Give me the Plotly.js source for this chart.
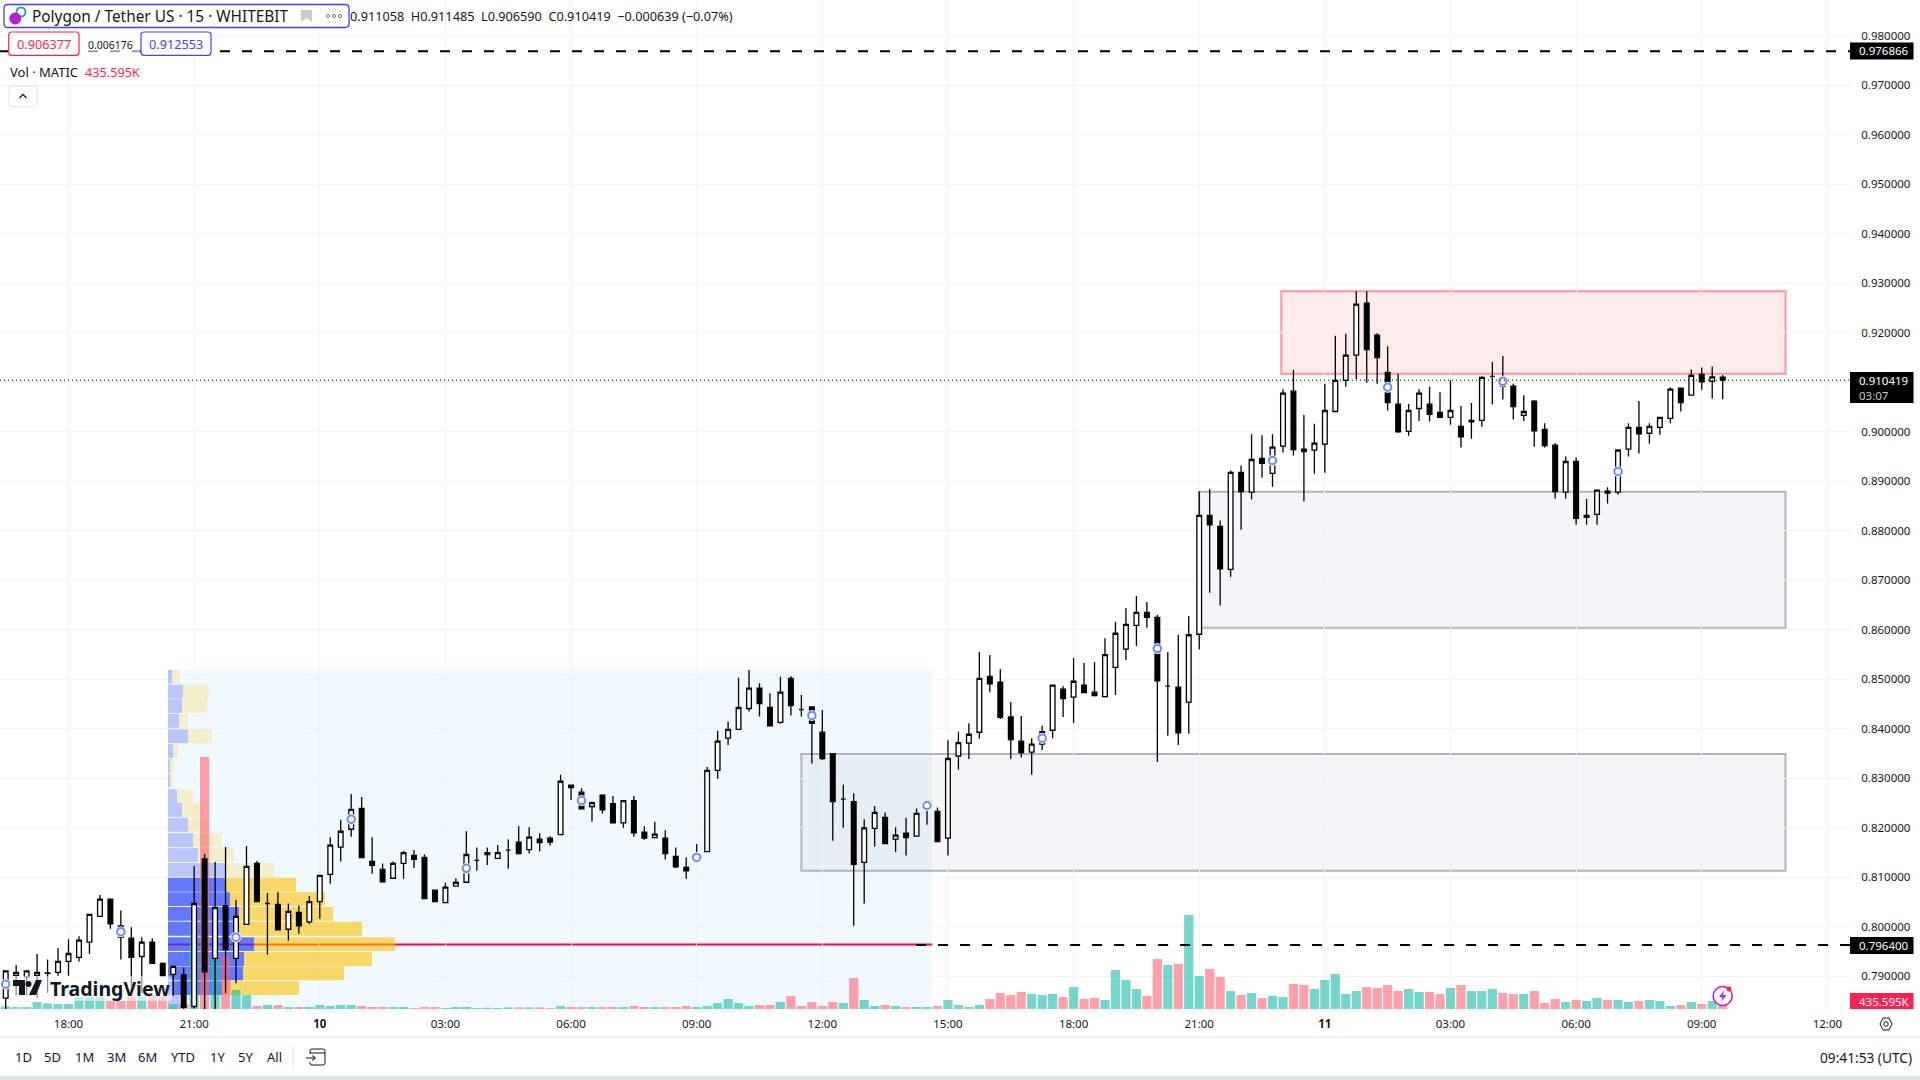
<!DOCTYPE html>
<html><head><meta charset="utf-8">
<script src="https://cdn.plot.ly/plotly-3.0.1.min.js"></script>
<style>html,body{margin:0;padding:0;background:#fff}#c{width:1920px;height:1080px}</style>
</head><body><div id="c"></div>
<script>
// ---------- DATA ----------
const firstBarHour = 16.5;   // hours since 00:00 on the 9th
const barHours = 0.25;
const openP = [
.7856,.7902,.7899,.7902,.7906,.7908,.7930,.7938,.7969,.8021,
.8056,.7979,.7977,.7940,.7969,.7926,.7904,.7903,.7839,.8137,
.7936,.8042,.7936,.8005,.8128,.8047,.8045,.7995,.8029,.8010,
.8051,.8106,.8161,.8197,.8239,.8132,.8116,.8098,.8128,.8144,
.8140,.8074,.8049,.8082,.8090,.8134,.8146,.8138,.8155,.8171,
.8156,.8177,.8179,.8186,.8286,.8272,.8243,.8266,.8249,.8210,
.8255,.8191,.8180,.8179,.8142,.8120,.8137,.8152,.8316,.8381,
.8399,.8441,.8482,.8443,.8413,.8502,.8439,.8444,.8393,.8350,
.8258,.8253,.8130,.8199,.8221,.8177,.8189,.8183,.8242,.8233,
.8179,.8345,.8371,.8393,.8506,.8494,.8424,.8375,.8353,.8369,
.8397,.8480,.8464,.8488,.8474,.8465,.8524,.8561,.8609,.8635,
.8625,.8486,.8484,.8454,.8591,.8831,.8809,.8722,.8918,.8878,
.8946,.8916,.8971,.9082,.8965,.8963,.8975,.9041,.9104,.9155,
.9260,.9195,.9120,.9056,.9001,.9047,.9056,.9039,.9029,.9011,
.9023,.9023,.9112,.9092,.9092,.9033,.9062,.9005,.8973,.8878,
.8940,.8827,.8833,.8880,.8878,.8965,.9009,.8997,.9009,.9027,
.9088,.9074,.9116,.9102,.911058];
const highP = [
.7911,.7923,.7911,.7945,.7934,.7957,.7975,.7981,.8025,.8064,
.8056,.8033,.7999,.7979,.7977,.7928,.7922,.7918,.8123,.8147,
.8131,.8161,.8054,.8163,.8133,.8068,.8070,.8047,.8043,.8062,
.8104,.8181,.8216,.8268,.8262,.8181,.8128,.8132,.8153,.8155,
.8146,.8074,.8089,.8098,.8193,.8160,.8160,.8165,.8177,.8203,
.8201,.8189,.8183,.8307,.8286,.8280,.8253,.8266,.8264,.8255,
.8264,.8203,.8212,.8195,.8160,.8140,.8167,.8323,.8396,.8414,
.8503,.8519,.8492,.8472,.8505,.8506,.8468,.8445,.8438,.8350,
.8287,.8270,.8217,.8244,.8231,.8201,.8220,.8239,.8252,.8241,
.8377,.8394,.8411,.8555,.8549,.8521,.8454,.8426,.8381,.8406,
.8488,.8486,.8543,.8533,.8535,.8583,.8616,.8644,.8668,.8656,
.8630,.8555,.8590,.8628,.8880,.8884,.8821,.8922,.8932,.8995,
.8993,.8995,.9086,.9125,.9034,.9016,.9097,.9194,.9198,.9284,
.9284,.9199,.9173,.9117,.9056,.9086,.9091,.9080,.9104,.9052,
.9058,.9112,.9141,.9153,.9097,.9074,.9064,.9017,.8977,.8950,
.8948,.8864,.8882,.8888,.8965,.9017,.9062,.9017,.9029,.9090,
.9088,.9126,.9130,.9132,.911485];
const lowP = [
.7834,.7861,.7861,.7856,.7866,.7901,.7901,.7930,.7945,.8021,
.7996,.7934,.7879,.7866,.7926,.7899,.7860,.7834,.7835,.7825,
.7825,.7866,.7886,.8005,.8051,.7944,.7994,.7972,.7986,.8006,
.8016,.8087,.8132,.8182,.8140,.8107,.8089,.8098,.8097,.8119,
.8057,.8051,.8049,.8082,.8090,.8113,.8125,.8138,.8117,.8146,
.8148,.8152,.8164,.8186,.8256,.8238,.8212,.8229,.8210,.8200,
.8182,.8176,.8180,.8136,.8119,.8097,.8135,.8152,.8299,.8367,
.8399,.8435,.8425,.8406,.8410,.8427,.8425,.8330,.8337,.8174,
.8200,.8002,.8047,.8162,.8168,.8151,.8144,.8183,.8206,.8172,
.8144,.8317,.8339,.8380,.8474,.8420,.8339,.8342,.8307,.8357,
.8381,.8424,.8412,.8473,.8465,.8463,.8468,.8539,.8567,.8604,
.8333,.8386,.8367,.8390,.8560,.8675,.8649,.8707,.8802,.8863,
.8907,.8889,.8958,.8952,.8859,.8915,.8917,.9041,.9091,.9106,
.9099,.9097,.9043,.8998,.8992,.9022,.9021,.9029,.9014,.8968,
.8986,.9010,.9055,.9065,.9025,.9022,.8970,.8968,.8865,.8865,
.8812,.8812,.8812,.8855,.8873,.8950,.8956,.8976,.8994,.9017,
.9041,.9074,.9085,.9067,.90659];
const closeP = [
.7911,.7908,.7911,.7908,.7907,.7930,.7946,.7973,.8025,.8056,
.8006,.8002,.7938,.7969,.7926,.7901,.7920,.7837,.8047,.7909,
.8039,.7954,.8021,.8122,.8051,.8047,.7994,.8031,.8002,.8051,
.8104,.8165,.8193,.8237,.8140,.8124,.8091,.8128,.8150,.8136,
.8057,.8051,.8080,.8090,.8146,.8134,.8150,.8150,.8155,.8148,
.8181,.8170,.8171,.8294,.8281,.8238,.8251,.8236,.8210,.8255,
.8190,.8179,.8187,.8148,.8121,.8113,.8143,.8316,.8375,.8399,
.8443,.8482,.8451,.8406,.8474,.8447,.8439,.8411,.8340,.8253,
.8258,.8126,.8200,.8231,.8168,.8185,.8180,.8229,.8249,.8172,
.8340,.8372,.8389,.8502,.8491,.8423,.8378,.8352,.8369,.8394,
.8488,.8461,.8496,.8473,.8467,.8550,.8593,.8611,.8635,.8625,
.8497,.8486,.8392,.8590,.8831,.8812,.8723,.8918,.8879,.8944,
.8936,.8969,.9078,.8964,.8960,.8977,.9043,.9104,.9155,.9258,
.9166,.9150,.9059,.9000,.9043,.9078,.9035,.9029,.9043,.8990,
.9020,.9110,.9112,.9109,.9051,.9041,.9002,.8972,.8879,.8940,
.8825,.8831,.8882,.8876,.8963,.9009,.8996,.9011,.9029,.9086,
.9059,.9114,.9101,.9111,.910419];
const volumeK = [
387,290,290,1015,822,725,725,1740,1740,1740,
1160,1160,1740,1740,2030,1740,725,725,10585,36540,
7345,7685,2755,2030,435,580,580,290,290,290,
580,435,580,580,435,290,290,290,290,145,
290,290,145,290,290,145,193,145,242,242,
242,242,145,435,290,290,290,290,290,290,
435,290,290,290,290,435,290,435,870,1450,
870,435,580,580,1015,1885,435,1015,435,1015,
870,4495,1305,435,580,435,290,290,290,435,
1305,580,290,580,1450,2320,2030,2465,2175,2030,
2175,1740,3190,1450,1595,1305,5655,4205,2900,1885,
7250,6380,6525,13630,4785,5800,4640,2610,2030,2320,
1595,1885,1740,3625,3480,2900,4205,5075,2175,2610,
3190,3045,3480,2610,2900,2465,2465,2175,3045,3480,
2610,2610,2900,2320,2175,2175,2610,870,1450,1015,
1305,1160,1595,1305,1305,1015,1160,1305,1160,435,
580,1015,725,1160,435.595];
const volumeSide = ("TTTTTTTTTT"+"PPPTPPTPTP"+"TPTTPTPTPT"+"TTTTPPPTTP"+"PPTTTTTTTP"+
 "TPPTPPTPPT"+"PPTPPPTTTT"+"TTPPTPPPPP"+"TPTTPTPTTP"+"TTTTPPPPTT"+"TPTPPTTTTP"+
 "PTPTTPPTPT"+"PTTPPTTTTT"+"PPPPTTPPTP"+"TTTPPTPPPT"+"PTTPTTPTTT"+"PTPTP").split("");
const markerBars = [0,11,22,33,44,55,66,77,88,99,110,121,132,143,154];
const markerPrices = [.7884,.7990,.7979,.8217,.8118,.8255,.8140,.8427,.8245,.8381,.8562,.8942,.9090,.9102,.8920];
const profilePrices = [.8505,.8475,.8446,.8416,.8385,.8355,.8325,.8295,.8264,.8236,.8206,.8175,.8145,.8115,.8085,.8056,.8026,.7996,.7965,.7935,.7906,.7876,.7847];
const profileUp = [600,2250,2100,1650,3000,750,300,300,1350,2100,3000,3750,4500,8550,8650,9300,10650,10200,12900,11400,11250,8100,1800];
const profileDown = [1200,3900,3750,1350,3600,750,600,300,2400,3300,3150,4350,5400,7350,10550,14250,14100,18900,21150,19200,15150,11550,0];
const valueArea = [0,0,0,0,0,0,0,0,0,0,0,0,0,0,1,1,1,1,1,1,1,1,0];
const hourTicks = [18,21,24,27,30,33,36,39,42,45,48,51,54,57,60];
const hourLabels = ["18:00","21:00","<b>10</b>","03:00","06:00","09:00","12:00","15:00","18:00","21:00","<b>11</b>","03:00","06:00","09:00","12:00"];
const priceTicks = [.79,.80,.81,.82,.83,.84,.85,.86,.87,.88,.89,.90,.91,.92,.93,.94,.95,.96,.97,.98];
const priceLabels = ["0.790000","0.800000","0.810000","0.820000","0.830000","0.840000","0.850000","0.860000","0.870000","0.880000","0.890000","0.900000","","0.920000","0.930000","0.940000","0.950000","0.960000","0.970000","0.980000"];
const rangeButtons = ["1D","5D","1M","3M","6M","YTD","1Y","5Y","All"];
const rangeButtonX = [23,52.7,84,116,147.7,183,217,245.3,274];
const redZone = {h0:46.96,h1:59,top:.9284,bot:.9117};
const greyZoneA = {h0:45,h1:59,top:.8879,bot:.8604};
const greyZoneB = {h0:35.5,h1:59,top:.8349,bot:.8113};
const profileZone = {h0:20.375,h1:38.625,top:.8519,bot:.7834};
const targetHigh = .976866, targetLow = .7964, lastPrice = .910419, targetLowDashFrom = 38.24;

// ---------- LAYOUT CONSTANTS ----------
const W=1920,H=1080,PW=1850,PH=1009;
const FONT='"Noto Sans", sans-serif', INK='#131722';
const hourRange=[16.364,60.54], priceRange=[.78339,.98723];
const px=x=>x/PW, py=y=>1-y/PH;
const barX = openP.map((_,i)=>firstBarHour+i*barHours);

// ---------- TRACES ----------
const traces=[
 {type:'bar',orientation:'h',xaxis:'x',yaxis:'y',y:profilePrices,x:profileUp,base:0,width:.0028,
  marker:{color:valueArea.map(v=>v?'rgba(39,65,255,.7)':'rgba(39,65,255,.27)'),line:{width:0}},hoverinfo:'skip'},
 {type:'bar',orientation:'h',xaxis:'x',yaxis:'y',y:profilePrices,x:profileDown,base:profileUp,width:.0028,
  marker:{color:valueArea.map(v=>v?'rgba(255,193,7,.6)':'rgba(255,193,7,.2)'),line:{width:0}},hoverinfo:'skip'},
 {type:'bar',xaxis:'x2',yaxis:'y2',x:barX,y:volumeK,width:.22,
  marker:{color:volumeSide.map(s=>s==='T'?'rgba(27,187,168,.6)':'rgba(255,97,113,.6)'),line:{width:0}},hoverinfo:'skip'},
 {type:'candlestick',xaxis:'x3',yaxis:'y3',x:barX,open:openP,high:highP,low:lowP,close:closeP,whiskerwidth:0,
  increasing:{line:{color:'#000',width:1.3},fillcolor:'#fff'},
  decreasing:{line:{color:'#000',width:1.3},fillcolor:'#000'},hoverinfo:'skip'},
 {type:'scatter',mode:'markers',xaxis:'x3',yaxis:'y3',x:markerBars.map(i=>barX[i]),y:markerPrices,
  marker:{size:11,color:'#fff',line:{width:0}},hoverinfo:'skip'},
 {type:'scatter',mode:'markers',xaxis:'x3',yaxis:'y3',x:markerBars.map(i=>barX[i]),y:markerPrices,
  marker:{size:7.5,color:'#fff',line:{width:2,color:'#6d87ff'}},hoverinfo:'skip'}
];

// ---------- SHAPES ----------
const zone=(z,fill,line)=>({type:'rect',xref:'x3',yref:'y3',x0:z.h0,x1:z.h1,y0:z.bot,y1:z.top,fillcolor:fill,line:{color:line,width:2},layer:'below'});
const rr=(x0,y0,x1,y1,r,stroke,fill,w)=>{
 const X=v=>px(v),Y=v=>py(v);
 return {type:'path',xref:'paper',yref:'paper',layer:'above',fillcolor:fill||'rgba(0,0,0,0)',line:{color:stroke||'rgba(0,0,0,0)',width:w===undefined?1:w},
  path:`M${X(x0+r)},${Y(y0)} L${X(x1-r)},${Y(y0)} Q${X(x1)},${Y(y0)} ${X(x1)},${Y(y0+r)} L${X(x1)},${Y(y1-r)} Q${X(x1)},${Y(y1)} ${X(x1-r)},${Y(y1)} L${X(x0+r)},${Y(y1)} Q${X(x0)},${Y(y1)} ${X(x0)},${Y(y1-r)} L${X(x0)},${Y(y0+r)} Q${X(x0)},${Y(y0)} ${X(x0+r)},${Y(y0)} Z`};};
const circ=(cx,cy,r,fill,stroke,w)=>({type:'circle',xref:'paper',yref:'paper',layer:'above',x0:px(cx-r),x1:px(cx+r),y0:py(cy+r),y1:py(cy-r),fillcolor:fill||'rgba(0,0,0,0)',line:{color:stroke||'rgba(0,0,0,0)',width:w||0}});
const poly=(pts,fill,stroke,w,closed=true)=>({type:'path',xref:'paper',yref:'paper',layer:'above',fillcolor:fill||'rgba(0,0,0,0)',line:{color:stroke||'rgba(0,0,0,0)',width:w||0},
  path:pts.map((p,i)=>(i?'L':'M')+px(p[0])+','+py(p[1])).join(' ')+(closed?' Z':'')});
const hline=(x0,x1,y,color,w)=>({type:'line',xref:'paper',yref:'paper',layer:'above',x0:px(x0),x1:px(x1),y0:py(y),y1:py(y),line:{color,width:w}});
const tagBox=(y0,y1,color)=>({type:'rect',xref:'paper',yref:'paper',layer:'above',x0:1,x1:px(1913.5),y0:py(y1),y1:py(y0),fillcolor:color,line:{width:0}});

const shapes=[
 {type:'rect',xref:'x3',yref:'y3',x0:profileZone.h0,x1:profileZone.h1,y0:profileZone.bot,y1:profileZone.top,fillcolor:'#f0f9fe',line:{width:0},layer:'below'},
 zone(greyZoneB,'rgba(120,123,134,.08)','#b2b5be'),
 zone(greyZoneA,'rgba(120,123,134,.08)','#b2b5be'),
 zone(redZone,'rgba(242,54,69,.1)','#ff93a3'),
 {type:'line',xref:'x3',yref:'y3',x0:profileZone.h0,x1:profileZone.h1,y0:targetLow,y1:targetLow,line:{color:'#ff0040',width:2},layer:'below'},
 {type:'line',xref:'x3',yref:'y3',x0:targetLowDashFrom,x1:hourRange[1],y0:targetLow-.0001,y1:targetLow-.0001,line:{color:'#000',width:2,dash:'10px,12px'},layer:'above'},
 {type:'line',xref:'x3',yref:'y3',x0:hourRange[0],x1:hourRange[1],y0:targetHigh,y1:targetHigh,line:{color:'#000',width:2,dash:'10px,12px'},layer:'above'},
 {type:'line',xref:'x3',yref:'y3',x0:hourRange[0],x1:hourRange[1],y0:lastPrice,y1:lastPrice,line:{color:'#000',width:1,dash:'1px,3px'},layer:'above'},
 // price tags
 tagBox(42.5,59.5,'#000'), tagBox(937,954,'#000'), tagBox(372,403,'#000'), tagBox(993,1009,'#ff1f55'),
 // page chrome
 hline(0,W,1037,'#e0e3eb',1),
 {type:'rect',xref:'paper',yref:'paper',layer:'above',x0:0,x1:px(W),y0:py(1080),y1:py(1076),fillcolor:'#e0e3eb',line:{width:0}},
 {type:'line',xref:'paper',yref:'paper',layer:'above',x0:px(293),x1:px(293),y0:py(1046),y1:py(1067),line:{color:'#e0e3eb',width:1}},
 // header boxes
 rr(4,4.5,349,27.5,4,'#4a3dff','rgba(255,255,255,.85)',1.3),
 rr(8.7,32,79,55.3,3,'#ff1f55','#fff',1.2),
 rr(141,32,211,55.3,3,'#4a3dff','#fff',1.2),
 rr(82,33,140,55,0,null,'rgba(255,255,255,.62)',0),
 rr(9,86,37,106.7,3,'#e0e3eb','#fff',1),
 poly([[19.5,98],[23,94.5],[26.5,98]],null,INK,1.3,false),
 // coin icon
 circ(21,12,4.5,null,'#2d9cb0',2),
 circ(15.3,18.5,6,'#b71fd6'),
 // flag and dots
 poly([[301,10],[312,10],[312,22],[306.5,18],[301,22]],'#c9cbd3'),
 circ(328,16,1.6,null,'#555',.8),circ(334,16,1.6,null,'#555',.8),circ(340,16,1.6,null,'#555',.8),
 // gear
 poly([[1892,1024],[1889,1030],[1883,1030],[1880,1024],[1883,1018],[1889,1018]],null,INK,1),
 circ(1886,1024,2.2,null,INK,1),
 // calendar
 rr(310,1049,325,1065,2,INK,null,1),
 rr(305,1054,316,1062,0,null,'#fff',0),
 hline(310,325,1053,INK,1),
 hline(306,315,1058,INK,1),
 poly([[312,1055.5],[315.5,1058],[312,1060.5]],null,INK,1,false),
 // bolt badge
 circ(1722.7,996,9.5,'rgba(255,255,255,.6)','#c41bd6',1.6),
 poly([[1724,990.5],[1719,997],[1722.5,997],[1721,1002],[1726.5,995],[1723,995]],'#c41bd6'),
 circ(1729,989,2.4,'#ff1f55'),
 // watermark
 rr(10,976,172,1001,4,null,'rgba(255,255,255,.55)',0),
 poly([[13,980],[25,980],[25,995],[19,995],[19,986],[13,986]],INK),
 circ(28.5,984,3,INK),
 poly([[36,980],[42,980],[36,995],[29,995]],INK)
];

// ---------- ANNOTATIONS ----------
const note=(text,x,y,o={})=>Object.assign({text,xref:'paper',yref:'paper',x:px(x),y:py(y),xanchor:'left',yanchor:'middle',showarrow:false,align:'left',
  font:{family:FONT,size:12,color:INK},borderpad:0},o,o.font?{font:Object.assign({family:FONT,size:12,color:INK},o.font)}:{});
const tagFont={size:11.5,color:'#fff'};
const annotations=[
 note('Polygon / Tether US · 15 · WHITEBIT',31,16,{font:{size:15.4}}),
 note('0.911058  H0.911485  L0.906590  C0.910419  −0.000639 (−0.07%)',349,16.5,{font:{size:12.7}}),
 note('0.906377',43.8,44,{xanchor:'center',font:{size:12.7,color:'#ff1f55'}}),
 note('0.006176',110.5,45,{xanchor:'center',font:{size:10.5}}),
 note('0.912553',176,44,{xanchor:'center',font:{size:12.7,color:'#4a3dff'}}),
 note('Vol · MATIC',9,72,{font:{size:13}}),
 note('435.595K',84,72,{font:{size:12.7,color:'#ff1f55'}}),
 note('<b>TradingView</b>',49,988,{font:{size:19.5,color:INK}}),
 note('09:41:53 (UTC)',1913,1057,{xanchor:'right',font:{size:13.7}}),
 note('0.976866',1858,51,{font:tagFont}),
 note('0.796400',1858,945.5,{font:tagFont}),
 note('0.910419<br><span style="color:#c8c8c8">03:07</span>',1858,387.5,{font:tagFont}),
 note('435.595K',1858,1001,{font:tagFont}),
 ...rangeButtons.map((b,i)=>note(b,rangeButtonX[i],1057,{xanchor:'center',font:{size:13}}))
];

const hidden={visible:false,fixedrange:true};
const layout={
 width:W,height:H,margin:{l:0,r:W-PW,t:0,b:H-PH,pad:0},paper_bgcolor:'#fff',plot_bgcolor:'#fff',showlegend:false,
 barmode:'overlay',boxgap:.36,font:{family:FONT,color:INK},dragmode:false,
 xaxis:Object.assign({},hidden,{range:[-25200,252300]}),
 yaxis:Object.assign({},hidden,{range:priceRange}),
 xaxis2:Object.assign({},hidden,{overlaying:'x',range:hourRange,anchor:'y2'}),
 yaxis2:Object.assign({},hidden,{overlaying:'y',range:[0,146305],anchor:'x2'}),
 xaxis3:{overlaying:'x',anchor:'y3',range:hourRange,rangeslider:{visible:false},tickmode:'array',tickvals:hourTicks,ticktext:hourLabels,showgrid:true,gridcolor:'#f0f3f6',gridwidth:1,zeroline:false,
   ticks:'outside',ticklen:4,tickcolor:'rgba(0,0,0,0)',tickfont:{family:FONT,size:11.5,color:INK},showline:false,side:'bottom',fixedrange:true},
 yaxis3:{overlaying:'y',anchor:'x3',side:'right',range:priceRange,tickmode:'array',tickvals:priceTicks,ticktext:priceLabels,showgrid:true,gridcolor:'#f0f3f6',gridwidth:1,zeroline:false,
   ticks:'outside',ticklen:8,tickcolor:'rgba(0,0,0,0)',tickfont:{family:FONT,size:11.5,color:INK},showline:false,fixedrange:true},
 shapes,annotations
};
Plotly.newPlot('c',traces,layout,{staticPlot:true,displayModeBar:false});
</script></body></html>
